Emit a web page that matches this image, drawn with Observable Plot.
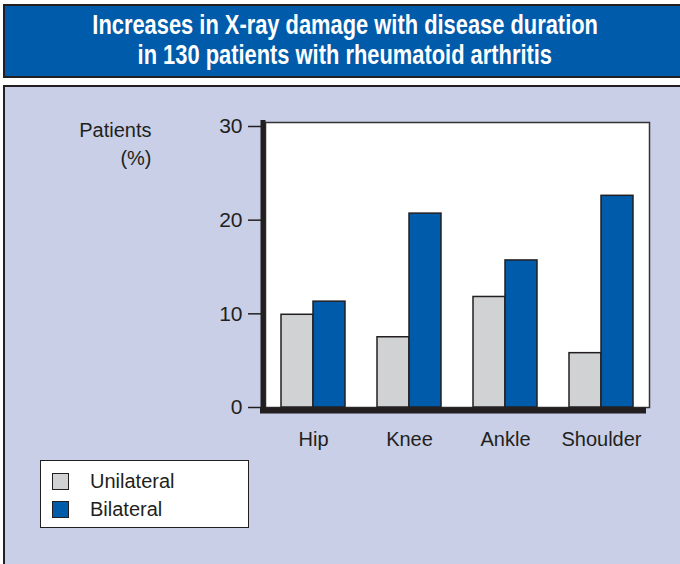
<!DOCTYPE html>
<html>
<head>
<meta charset="utf-8">
<script src="https://cdn.jsdelivr.net/npm/d3@7"></script>
<script src="https://cdn.jsdelivr.net/npm/@observablehq/plot@0.6"></script>
<style>
  html, body { margin: 0; padding: 0; background: #ffffff; }
  body { position: relative; width: 680px; height: 564px; overflow: hidden; font-family: "Liberation Sans", Arial, sans-serif; }
  #title {
    position: absolute; left: 3px; top: 4px; width: 700px; height: 70px;
    background: #005bab; border: 2px solid #231f20;
    color: #ffffff;
  }
  #title .line {
    position: absolute; left: 0; width: 680px; text-align: center;
    font-family: "Liberation Sans", Arial, sans-serif;
    font-weight: bold; font-size: 27px; line-height: 30px; white-space: nowrap;
  }
  #title .line span { display: inline-block; transform-origin: center; }
  #panel {
    position: absolute; left: 3px; top: 85px; width: 700px; height: 500px;
    background: #c8cfe7; border: 2px solid #231f20;
  }
  #chart { position: absolute; left: 0px; top: 86px; }
  #legend {
    position: absolute; left: 40px; top: 460px; width: 207px; height: 66px;
    background: #ffffff; border: 1.5px solid #231f20;
    font-family: "Liberation Sans", Arial, sans-serif; font-size: 20px; color: #231f20;
  }
  .item { position: absolute; left: 11px; height: 24px; display: flex; align-items: center; }
  .sw { width: 15px; height: 15px; border: 1.5px solid #231f20; margin-right: 21px; }
</style>
</head>
<body>
<div id="title"></div>
<div id="panel"></div>
<div id="chart"></div>
<div id="legend"></div>
<script>
const titleLines = ["Increases in X-ray damage with disease duration", "in 130 patients with rheumatoid arthritis"];
const joints = ["Hip", "Knee", "Ankle", "Shoulder"];
const seriesNames = ["Unilateral", "Bilateral"];
const unilateral = [9.9, 7.5, 11.8, 5.8];
const bilateral = [11.3, 20.7, 15.7, 22.6];
const seriesColors = ["#d1d2d4", "#005bab"];
const yTicks = [0, 10, 20, 30];
const yLabelLines = ["Patients", "(%)"];

const uniData = joints.map((j, i) => ({joint: j, series: seriesNames[0], value: unilateral[i]}));
const biData = joints.map((j, i) => ({joint: j, series: seriesNames[1], value: bilateral[i]}));

const ink = "#231f20";
const W = 680, ML = 265, MR = 31;
const padIn = 1/3, padOut = 1/6;
const step = (W - ML - MR) / (joints.length - padIn + 2 * padOut);
const half = step * (1 - padIn) / 2;

// title: condensed look via horizontal scale
const titleEl = document.getElementById("title");
const titleScale = 0.81;
titleLines.forEach((t, i) => {
  const d = document.createElement("div");
  d.className = "line";
  d.style.top = (4 + i * 30) + "px";
  const s = document.createElement("span");
  s.textContent = t;
  s.style.transform = `scaleX(${titleScale})`;
  d.appendChild(s);
  titleEl.appendChild(d);
});

const chart = Plot.plot({
  width: W,
  height: 370,
  marginLeft: ML,
  marginRight: MR,
  marginTop: 36,
  marginBottom: 49,
  style: {fontFamily: "'Liberation Sans', Arial, sans-serif", fontSize: "20px", color: ink, background: "transparent", overflow: "visible"},
  x: {domain: joints, paddingInner: padIn, paddingOuter: padOut, axis: null},
  y: {domain: [0, 30], insetTop: 4, axis: null},
  color: {domain: seriesNames, range: seriesColors},
  marks: [
    Plot.frame({fill: "white", stroke: "#333333", strokeWidth: 1.5}),
    Plot.axisY({ticks: yTicks, tickSize: 17, tickPadding: 6, tickFormat: d => d, label: null, stroke: ink, strokeWidth: 1.5, fontSize: 21}),
    Plot.barY(uniData, {x: "joint", y: "value", fill: "series", stroke: ink, strokeWidth: 1.5, insetLeft: 0, insetRight: half}),
    Plot.barY(biData, {x: "joint", y: "value", fill: "series", stroke: ink, strokeWidth: 1.5, insetLeft: half, insetRight: 0}),
    Plot.axisX({anchor: "bottom", tickSize: 0, tickPadding: 24, label: null, fontSize: 20}),
    Plot.frame({anchor: "left", stroke: ink, strokeWidth: 5, dx: -2.5}),
    Plot.ruleY([0], {stroke: ink, strokeWidth: 6, dy: 3, insetLeft: -5, insetRight: 3}),
    Plot.text([yLabelLines.join("\n")], {frameAnchor: "top-left", textAnchor: "end", dx: -114, dy: -5, fontSize: 20, lineHeight: 1.4, fill: ink})
  ]
});
document.getElementById("chart").appendChild(chart);

const legend = document.getElementById("legend");
seriesNames.forEach((s, i) => {
  const it = document.createElement("div");
  it.className = "item";
  it.style.top = (8 + i * 28) + "px";
  const sw = document.createElement("span");
  sw.className = "sw";
  sw.style.background = seriesColors[i];
  const tx = document.createElement("span");
  tx.textContent = s;
  it.appendChild(sw); it.appendChild(tx);
  legend.appendChild(it);
});
</script>
</body>
</html>
